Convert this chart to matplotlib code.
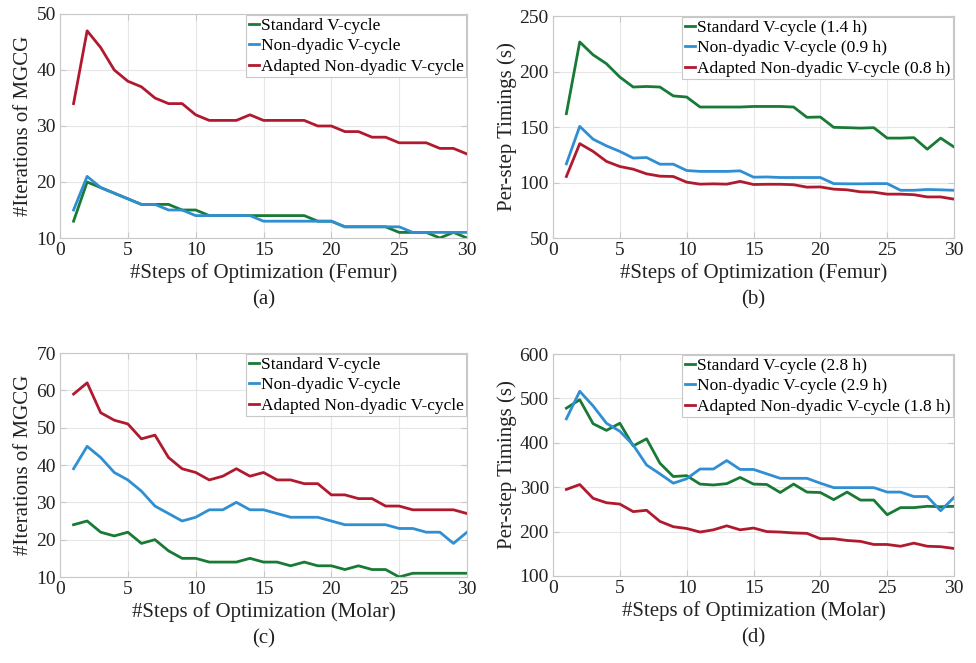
import matplotlib
matplotlib.use("Agg")
import matplotlib.pyplot as plt

plt.rcParams["font.family"] = ["Liberation Serif", "DejaVu Serif"]
plt.rcParams["mathtext.fontset"] = "stix"

steps = list(range(1, 31))

# (a) Femur, iterations
femur_iter_std = [13, 20, 19, 18, 17, 16, 16, 16, 15, 15, 14, 14, 14, 14, 14,
                  14, 14, 14, 13, 13, 12, 12, 12, 12, 11, 11, 11, 10, 11, 10]
femur_iter_nd = [15, 21, 19, 18, 17, 16, 16, 15, 15, 14, 14, 14, 14, 14, 13,
                 13, 13, 13, 13, 13, 12, 12, 12, 12, 12, 11, 11, 11, 11, 11]
femur_iter_and = [34, 47, 44, 40, 38, 37, 35, 34, 34, 32, 31, 31, 31, 32, 31,
                  31, 31, 31, 30, 30, 29, 29, 28, 28, 27, 27, 27, 26, 26, 25]

# (b) Femur, per-step timings (s)
femur_time_std = [162, 226.6, 215, 207, 195, 186, 186.5, 186, 178, 177, 168, 168, 168, 168, 168.5,
                  168.5, 168.5, 168, 158.7, 159, 149.7, 149.4, 149, 149.4, 140, 140, 140.4, 130, 140, 132]
femur_time_nd = [116.8, 150.6, 139, 133, 128, 122, 122.5, 116.5, 116.5, 110.8, 110, 110, 110, 110.5, 104.8,
                 105, 104.5, 104.5, 104.5, 104.5, 99, 98.8, 98.8, 99, 99, 93, 93, 93.7, 93.4, 93]
femur_time_and = [105.4, 135, 128, 119, 114.4, 112, 107.8, 105.7, 105.4, 100.3, 98.5, 98.8, 98.5, 101, 98.2,
                  98.4, 98.4, 98, 95.8, 96, 94, 93.4, 91.6, 91.3, 89.5, 89.5, 89, 87, 87, 85]

# (c) Molar, iterations
molar_iter_std = [24, 25, 22, 21, 22, 19, 20, 17, 15, 15, 14, 14, 14, 15, 14,
                  14, 13, 14, 13, 13, 12, 13, 12, 12, 10, 11, 11, 11, 11, 11]
molar_iter_nd = [39, 45, 42, 38, 36, 33, 29, 27, 25, 26, 28, 28, 30, 28, 28,
                 27, 26, 26, 26, 25, 24, 24, 24, 24, 23, 23, 22, 22, 19, 22]
molar_iter_and = [59, 62, 54, 52, 51, 47, 48, 42, 39, 38, 36, 37, 39, 37, 38,
                  36, 36, 35, 35, 32, 32, 31, 31, 29, 29, 28, 28, 28, 28, 27]

# (d) Molar, per-step timings (s)
molar_time_std = [478, 497, 443, 428, 444, 393, 409, 354, 324, 326, 307, 305, 308, 322, 307,
                  306, 288, 307, 289, 288, 272, 289, 271, 271, 238, 254, 254, 257, 256, 257]
molar_time_nd = [454, 516, 483, 444, 426, 395, 350, 330, 309, 319, 341, 341, 360, 340, 340,
                 330, 320, 320, 320, 309, 299, 299, 299, 299, 289, 289, 279, 279, 247, 277]
molar_time_and = [295, 306, 275, 265, 262, 245, 248, 223, 211, 207, 199, 204, 213, 204, 208,
                  200, 199, 197, 196, 184, 184, 180, 178, 171, 171, 167, 174, 167, 166, 162]

labels_iter = ["Standard V-cycle", "Non-dyadic V-cycle", "Adapted Non-dyadic V-cycle"]
labels_femur_time = ["Standard V-cycle (1.4 h)", "Non-dyadic V-cycle (0.9 h)",
                     "Adapted Non-dyadic V-cycle (0.8 h)"]
labels_molar_time = ["Standard V-cycle (2.8 h)", "Non-dyadic V-cycle (2.9 h)",
                     "Adapted Non-dyadic V-cycle (1.8 h)"]

COLORS = ["#187a35", "#2f8fd2", "#b01a2e"]
SERIF = ["Liberation Serif", "DejaVu Serif"]

fig = plt.figure(figsize=(9.76, 6.63), dpi=100)
W, H = 976, 663


def make_ax(left, top, right, bottom):
    return fig.add_axes([left / W, 1 - bottom / H, (right - left) / W, (bottom - top) / H])


panels = [
    dict(box=(60, 14, 467, 238), series=(femur_iter_std, femur_iter_nd, femur_iter_and),
         labels=labels_iter, ylim=(10, 50), yticks=range(10, 51, 10),
         ylabel="#Iterations of MGCG", xlabel="#Steps of Optimization (Femur)", tag="(a)"),
    dict(box=(553, 16, 954, 238), series=(femur_time_std, femur_time_nd, femur_time_and),
         labels=labels_femur_time, ylim=(50, 250), yticks=range(50, 251, 50),
         ylabel="Per-step Timings (s)", xlabel="#Steps of Optimization (Femur)", tag="(b)"),
    dict(box=(60, 353, 467, 577), series=(molar_iter_std, molar_iter_nd, molar_iter_and),
         labels=labels_iter, ylim=(10, 70), yticks=range(10, 71, 10),
         ylabel="#Iterations of MGCG", xlabel="#Steps of Optimization (Molar)", tag="(c)"),
    dict(box=(553, 354, 954, 576), series=(molar_time_std, molar_time_nd, molar_time_and),
         labels=labels_molar_time, ylim=(100, 600), yticks=range(100, 601, 100),
         ylabel="Per-step Timings (s)", xlabel="#Steps of Optimization (Molar)", tag="(d)"),
]

for p in panels:
    ax = make_ax(*p["box"])
    for ys, lab, c in zip(p["series"], p["labels"], COLORS):
        ax.plot(steps, ys, color=c, linewidth=2, label=lab)
    ax.set_xlim(0, 30)
    ax.set_ylim(*p["ylim"])
    ax.set_xticks(range(0, 31, 5))
    ax.set_yticks(list(p["yticks"]))
    ax.grid(True, color="#e6e6e6", linewidth=0.8)
    ax.set_axisbelow(True)
    for sp in ax.spines.values():
        sp.set_color("#c8c8c8")
        sp.set_linewidth(0.8)
    ax.tick_params(direction="in", length=4, color="#c8c8c8", labelsize=14,
                   labelcolor="#222222", top=True, right=True, pad=3)
    for t in ax.get_xticklabels() + ax.get_yticklabels():
        t.set_fontfamily(SERIF)
    ax.set_ylabel(p["ylabel"], fontsize=15, color="#222222", labelpad=2)
    ax.set_xlabel(p["xlabel"], fontsize=15, color="#222222", labelpad=3)
    ax.text(0.5, -0.235, p["tag"], transform=ax.transAxes, ha="center", va="top",
            fontsize=15, color="#222222")
    leg = ax.legend(loc="upper right", fontsize=12.5, handlelength=0.6, handletextpad=0.1,
                    borderpad=0.15, labelspacing=0.25, borderaxespad=0.05, fancybox=False,
                    framealpha=1)
    leg.get_frame().set_edgecolor("#c8c8c8")
    leg.get_frame().set_linewidth(0.8)

fig.savefig("out.png", dpi=100)
